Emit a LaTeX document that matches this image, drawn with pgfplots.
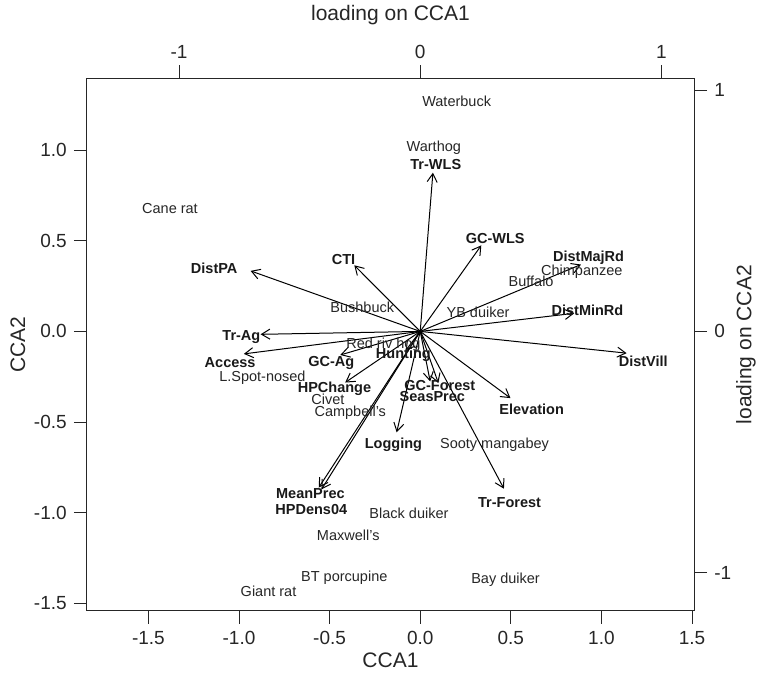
\documentclass[border=0pt]{standalone}
\usepackage{fontspec}
\setmainfont{Liberation Sans}
\usepackage{pgfplots}
\pgfplotsset{compat=1.18}
\usepackage{pgfplotstable}
\usetikzlibrary{arrows.meta}

\pgfplotstableread[col sep=comma, row sep=\\]{
u,v,lx,ly,lab\\
0.070,0.876,0.086,0.920,Tr-WLS\\
0.337,0.475,0.414,0.515,GC-WLS\\
0.887,0.369,0.929,0.407,DistMajRd\\
0.850,0.100,0.923,0.118,DistMinRd\\
1.139,-0.120,1.231,-0.164,DistVill\\
0.498,-0.368,0.615,-0.432,Elevation\\
0.462,-0.868,0.493,-0.943,Tr-Forest\\
0.055,-0.276,0.108,-0.300,GC-Forest\\
0.100,-0.285,0.067,-0.359,SeasPrec\\
-0.080,-0.105,-0.093,-0.130,Hunting\\
-0.130,-0.557,-0.148,-0.624,Logging\\
-0.545,-0.872,-0.606,-0.893,MeanPrec\\
-0.560,-0.862,-0.601,-0.981,HPDens04\\
-0.414,-0.282,-0.473,-0.318,HPChange\\
-0.441,-0.130,-0.491,-0.175,GC-Ag\\
-0.973,-0.124,-1.049,-0.170,Access\\
-0.881,-0.016,-0.987,-0.029,Tr-Ag\\
-0.936,0.334,-1.137,0.347,DistPA\\
-0.364,0.365,-0.423,0.398,CTI\\
}\envtab

\pgfplotstableread[col sep=comma, row sep=\\]{
x,y,lab\\
0.201,1.271,Waterbuck\\
0.075,1.013,Warthog\\
-1.381,0.677,Cane rat\\
-0.320,0.134,Bushbuck\\
0.319,0.107,YB duiker\\
0.612,0.277,Buffalo\\
0.892,0.332,Chimpanzee\\
-0.203,-0.075,Red riv hog\\
-0.871,-0.254,L.Spot-nosed\\
-0.509,-0.377,Civet\\
-0.386,-0.447,Campbell's\\
0.410,-0.628,Sooty mangabey\\
-0.062,-1.003,Black duiker\\
-0.397,-1.124,Maxwell's\\
-0.419,-1.360,BT porcupine\\
0.471,-1.371,Bay duiker\\
-0.837,-1.437,Giant rat\\
}\spptab

\begin{document}
\begin{tikzpicture}
\path[use as bounding box] (-43.4pt,-31pt) rectangle (336.1pt,305.5pt);
\begin{axis}[
  scale only axis, width=303.7pt, height=266.35pt,
  xmin=-1.840, xmax=1.512, ymin=-1.543, ymax=1.397,
  clip=false,
  axis line style={line width=0.5pt, black!85},
  xtick={-1.5,-1,-0.5,0,0.5,1,1.5},
  ytick={-1.5,-1,-0.5,0,0.5,1},
  xtick pos=bottom, ytick pos=left,
  tick align=outside, major tick length=6.5pt,
  tick style={line width=0.5pt, black!85},
  /pgf/number format/fixed,
  /pgf/number format/fixed zerofill,
  /pgf/number format/precision=1,
  /pgf/number format/assume math mode=true,
  ticklabel style={font=\fontsize{9.5}{11}\selectfont, text=black!85},
  xlabel={CCA1}, ylabel={CCA2},
  every axis x label/.style={at={(axis description cs:0.5,-0.092)}, anchor=center, font=\fontsize{10.5}{12}\selectfont, text=black!85},
  every axis y label/.style={at={(axis description cs:-0.1133,0.5)}, rotate=90, anchor=center, font=\fontsize{10.5}{12}\selectfont, text=black!85},
]
\addplot[black, line width=0.5pt, -{Straight Barb[length=4.2pt,width=5pt]},
  quiver={u=\thisrow{u}, v=\thisrow{v}}]
  table[x expr=0, y expr=0] {\envtab};
\addplot[draw=none, mark=none, nodes near coords, point meta=explicit symbolic,
  nodes near coords style={anchor=center, inner sep=0pt, font=\fontsize{7.25}{8}\selectfont\bfseries, text=black!90}]
  table[x=lx, y=ly, meta=lab] {\envtab};
\addplot[draw=none, mark=none, nodes near coords, point meta=explicit symbolic,
  nodes near coords style={anchor=center, inner sep=0pt, font=\fontsize{7.25}{8}\selectfont, text=black!85}]
  table[x=x, y=y, meta=lab] {\spptab};
\end{axis}
\begin{axis}[
  scale only axis, width=303.7pt, height=266.35pt,
  xmin=-1.3824, xmax=1.1360, ymin=-1.1593, ymax=1.0496,
  axis x line*=top, axis y line*=right,
  axis line style={line width=0.5pt, black!85},
  xtick={-1,0,1}, ytick={-1,0,1},
  tick align=outside, major tick length=6.5pt,
  tick style={line width=0.5pt, black!85},
  /pgf/number format/assume math mode=true,
  ticklabel style={font=\fontsize{9.5}{11}\selectfont, text=black!85},
  xlabel={loading on CCA1}, ylabel={loading on CCA2},
  every axis x label/.style={at={(axis description cs:0.5,1.119)}, anchor=center, font=\fontsize{10.5}{12}\selectfont, text=black!85},
  every axis y label/.style={at={(axis description cs:1.0853,0.5)}, rotate=90, anchor=center, font=\fontsize{10.5}{12}\selectfont, text=black!85},
]
\addplot[draw=none] coordinates {(0,0)};
\end{axis}
\end{tikzpicture}
\end{document}
